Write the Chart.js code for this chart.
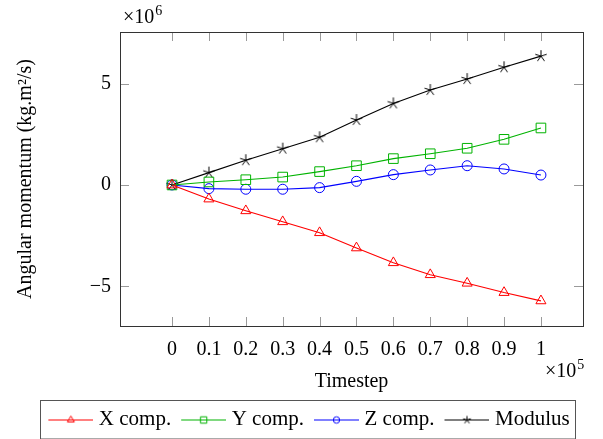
<!DOCTYPE html>
<html>
<head>
<meta charset="utf-8">
<script src="https://cdn.jsdelivr.net/npm/chart.js@4.4.1/dist/chart.umd.min.js"></script>
<style>
  html, body { margin: 0; padding: 0; background: #fff; }
</style>
</head>
<body>
<canvas id="momentumChart" width="603" height="439"></canvas>
<script>
// Timestep in units of 1e5, momentum in units of 1e6
const timesteps = [0, 0.1, 0.2, 0.3, 0.4, 0.5, 0.6, 0.7, 0.8, 0.9, 1];
const xComp = [0, -0.69, -1.27, -1.81, -2.35, -3.1, -3.83, -4.42, -4.84, -5.3, -5.71];
const yComp = [0, 0.15, 0.26, 0.39, 0.66, 0.95, 1.3, 1.54, 1.81, 2.25, 2.81];
const zComp = [0, -0.18, -0.21, -0.21, -0.13, 0.18, 0.51, 0.74, 0.95, 0.79, 0.49];
const modulus = [0, 0.61, 1.22, 1.79, 2.35, 3.2, 4.02, 4.68, 5.22, 5.8, 6.35];
const seriesNames = ['X comp.', 'Y comp.', 'Z comp.', 'Modulus'];
const xTickValues = [0, 0.1, 0.2, 0.3, 0.4, 0.5, 0.6, 0.7, 0.8, 0.9, 1];
const yTickValues = [-5, 0, 5];

const RED = '#ff0000', GREEN = '#00b300', BLUE = '#0000ff', BLACK = '#000000';
const SERIF = "'Liberation Serif', 'Times New Roman', serif";

// marker drawing, used for the legend icons and the star points
function drawMark(ctx, style, cx, cy, r, color) {
  ctx.strokeStyle = color;
  ctx.lineWidth = 1;
  ctx.beginPath();
  if (style === 'triangle') {
    ctx.moveTo(cx, cy - r);
    ctx.lineTo(cx + r * 0.866, cy + r * 0.5);
    ctx.lineTo(cx - r * 0.866, cy + r * 0.5);
    ctx.closePath();
  } else if (style === 'rect') {
    ctx.rect(cx - r * 0.707, cy - r * 0.707, r * 1.414, r * 1.414);
  } else if (style === 'circle') {
    ctx.arc(cx, cy, r, 0, Math.PI * 2);
  } else {
    for (let i = 0; i < 5; i++) {
      const a = -Math.PI / 2 + i * 2 * Math.PI / 5;
      ctx.moveTo(cx, cy);
      ctx.lineTo(cx + r * Math.cos(a), cy + r * Math.sin(a));
    }
  }
  ctx.stroke();
}

function makeStar(r) {
  const c = document.createElement('canvas');
  c.width = c.height = Math.ceil(r * 2 + 4);
  drawMark(c.getContext('2d'), 'star', c.width / 2, c.height / 2, r, BLACK);
  return c;
}

function legendIcon(color, style, r) {
  const c = document.createElement('canvas');
  c.width = 47; c.height = 12;
  const ctx = c.getContext('2d');
  ctx.strokeStyle = color;
  ctx.lineWidth = 1;
  ctx.beginPath();
  ctx.moveTo(2, 6.5); ctx.lineTo(47, 6.5);
  ctx.stroke();
  drawMark(ctx, style, 24.5, 6.5, r, color);
  return c;
}

const icons = [
  legendIcon(RED, 'triangle', 4),
  legendIcon(GREEN, 'rect', 4.5),
  legendIcon(BLUE, 'circle', 3.2),
  legendIcon(BLACK, 'star', 4)
];

function fmtX(v) {
  return String(Math.round(v * 10) / 10);
}
function fmtY(v) {
  return v < 0 ? '\u2212' + Math.abs(v) : String(v);
}

function toPoints(values) {
  return timesteps.map((t, i) => ({ x: t, y: values[i] }));
}

// frame, inward ticks, exponent labels and legend box
const axisDecor = {
  id: 'axisDecor',
  afterLayout(chart) {
    const lg = chart.legend;
    lg.left += 19;
    lg.right += 19;
    lg.top += 2;
    lg.bottom += 2;
  },
  beforeDatasetsDraw(chart) {
    const { ctx, chartArea: a, scales: { x, y } } = chart;
    ctx.save();
    ctx.strokeStyle = '#9a9a9a';
    ctx.lineWidth = 1;
    ctx.beginPath();
    xTickValues.forEach(v => {
      const px = Math.round(x.getPixelForValue(v)) + 0.5;
      ctx.moveTo(px, a.bottom); ctx.lineTo(px, a.bottom - 9);
      ctx.moveTo(px, a.top); ctx.lineTo(px, a.top + 9);
    });
    yTickValues.forEach(v => {
      const py = Math.round(y.getPixelForValue(v)) + 0.5;
      ctx.moveTo(a.left, py); ctx.lineTo(a.left + 9, py);
      ctx.moveTo(a.right, py); ctx.lineTo(a.right - 9, py);
    });
    ctx.stroke();
    ctx.restore();
  },
  afterDraw(chart) {
    const { ctx, chartArea: a } = chart;
    ctx.save();
    ctx.strokeStyle = '#333';
    ctx.lineWidth = 1;
    ctx.strokeRect(Math.round(a.left) + 0.5, Math.round(a.top) + 0.5,
      Math.round(a.right - a.left), Math.round(a.bottom - a.top));

    // scale multipliers
    ctx.fillStyle = '#000';
    ctx.textBaseline = 'alphabetic';
    ctx.textAlign = 'left';
    const drawExp = (x0, base, exp, yb) => {
      ctx.font = '20px ' + SERIF;
      ctx.fillText(base, x0, yb);
      const w = ctx.measureText(base).width;
      ctx.font = '14px ' + SERIF;
      ctx.fillText(exp, x0 + w + 1, yb - 8);
    };
    drawExp(a.left + 3, '\u00d710', '6', 23);
    drawExp(a.right - 38, '\u00d710', '5', 377);

    // legend frame
    const hb = chart.legend.legendHitBoxes;
    if (hb && hb.length) {
      const last = hb[hb.length - 1];
      const l = Math.round(hb[0].left - 11) + 0.5;
      const r = Math.round(last.left + last.width + 5) + 0.5;
      const t = Math.round(chart.legend.top + 4) + 0.5;
      ctx.strokeStyle = '#555';
      ctx.strokeRect(l, t, r - l, 439 - t);
    }
    ctx.restore();
  }
};

const datasets = [
  { label: seriesNames[0], data: toPoints(xComp), borderColor: RED, pointStyle: 'triangle', pointRadius: 5.8 },
  { label: seriesNames[1], data: toPoints(yComp), borderColor: GREEN, pointStyle: 'rect', pointRadius: 6.8 },
  { label: seriesNames[2], data: toPoints(zComp), borderColor: BLUE, pointStyle: 'circle', pointRadius: 5 },
  { label: seriesNames[3], data: toPoints(modulus), borderColor: BLACK, pointStyle: makeStar(6), pointRadius: 6 }
].map(d => Object.assign(d, {
  backgroundColor: 'transparent',
  pointBackgroundColor: 'transparent',
  pointBorderColor: d.borderColor,
  borderWidth: 1.1,
  pointBorderWidth: 1,
  tension: 0,
  fill: false
}));

const ctx = document.getElementById('momentumChart').getContext('2d');
new Chart(ctx, {
  type: 'line',
  data: { datasets },
  plugins: [axisDecor],
  options: {
    responsive: false,
    animation: false,
    events: [],
    layout: { padding: { top: 32, right: 20, bottom: 1, left: 0 } },
    plugins: {
      tooltip: { enabled: false },
      legend: {
        position: 'bottom',
        labels: {
          usePointStyle: true,
          pointStyleWidth: 37,
          padding: 13,
          color: '#000',
          font: { family: SERIF, size: 21 },
          generateLabels: chart => chart.data.datasets.map((d, i) => ({
            text: d.label,
            pointStyle: icons[i],
            fillStyle: 'transparent',
            strokeStyle: 'transparent',
            lineWidth: 0,
            fontColor: '#000',
            datasetIndex: i,
            hidden: false
          }))
        }
      }
    },
    scales: {
      x: {
        type: 'linear',
        min: -0.141,
        max: 1.114,
        afterBuildTicks: s => { s.ticks = xTickValues.map(v => ({ value: v })); },
        afterFit: s => { s.height = 68; },
        grid: { display: false, drawTicks: false },
        border: { display: false },
        ticks: {
          callback: v => fmtX(v),
          color: '#000',
          padding: 12,
          maxRotation: 0,
          autoSkip: false,
          font: { family: SERIF, size: 20 }
        },
        title: {
          display: true,
          text: 'Timestep',
          color: '#000',
          padding: { top: 0, bottom: 0 },
          font: { family: SERIF, size: 20 }
        }
      },
      y: {
        type: 'linear',
        min: -6.95,
        max: 7.54,
        afterBuildTicks: s => { s.ticks = yTickValues.map(v => ({ value: v })); },
        afterFit: s => { s.width = 120; },
        grid: { display: false, drawTicks: false },
        border: { display: false },
        ticks: {
          callback: v => fmtY(v),
          color: '#000',
          padding: 9,
          font: { family: SERIF, size: 20 }
        },
        title: {
          display: true,
          text: 'Angular momentum (kg.m\u00b2/s)',
          color: '#000',
          padding: { top: 14, bottom: 0 },
          font: { family: SERIF, size: 20 }
        }
      }
    }
  }
});
</script>
</body>
</html>
